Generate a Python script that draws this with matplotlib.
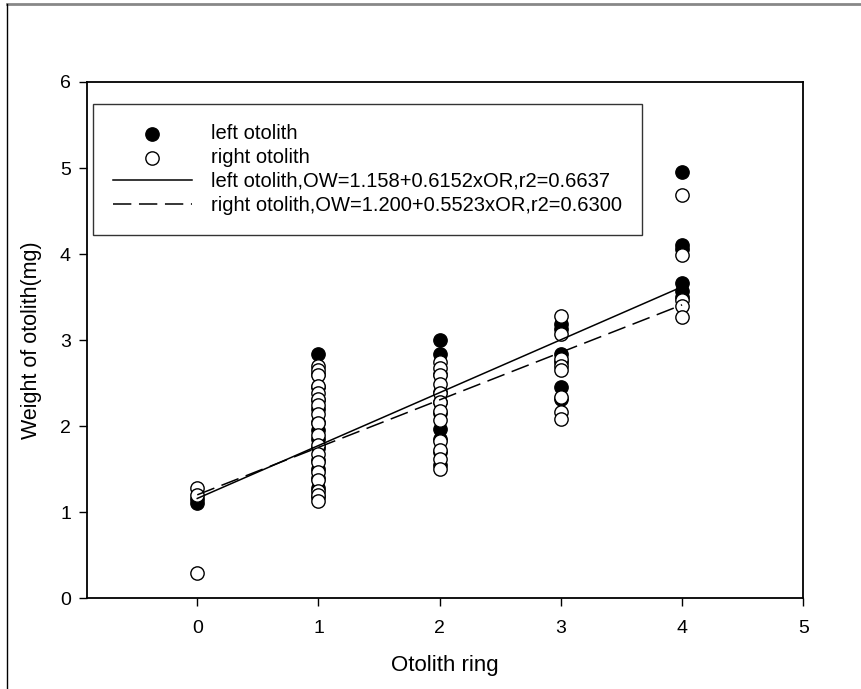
import matplotlib
matplotlib.use('Agg')
import matplotlib.pyplot as plt
from matplotlib.lines import Line2D
import numpy as np

plt.rcParams['font.family'] = ['Liberation Sans', 'DejaVu Sans']

# otolith ring (age) and weight (mg)
left_ring = [0, 0,
             1, 1, 1, 1, 1, 1, 1, 1, 1, 1, 1, 1, 1, 1,
             2, 2, 2, 2, 2, 2, 2, 2, 2, 2,
             3, 3, 3, 3, 3, 3,
             4, 4, 4, 4, 4, 4]
left_w = [1.11, 1.15,
          2.84, 2.60, 2.45, 2.30, 2.20, 2.05, 1.95, 1.85, 1.75, 1.60, 1.50, 1.40, 1.28, 1.18,
          3.00, 2.84, 2.60, 2.40, 2.28, 2.15, 1.97, 1.85, 1.70, 1.55,
          3.19, 3.13, 2.84, 2.45, 2.32, 2.75,
          4.95, 4.10, 4.06, 3.66, 3.57, 3.50]

right_ring = [0, 0, 0,
              1, 1, 1, 1, 1, 1, 1, 1, 1, 1, 1, 1, 1, 1, 1, 1, 1, 1,
              2, 2, 2, 2, 2, 2, 2, 2, 2, 2, 2, 2,
              3, 3, 3, 3, 3, 3, 3, 3,
              4, 4, 4, 4, 4]
right_w = [1.28, 1.20, 0.29,
           2.70, 2.65, 2.59, 2.47, 2.38, 2.32, 2.24, 2.14, 2.03, 1.89, 1.78, 1.68, 1.58, 1.47, 1.37, 1.25, 1.20, 1.13,
           2.74, 2.67, 2.59, 2.49, 2.38, 2.28, 2.18, 2.07, 1.83, 1.72, 1.62, 1.50,
           3.28, 3.07, 2.78, 2.70, 2.65, 2.34, 2.16, 2.08,
           4.69, 3.99, 3.46, 3.40, 3.27]

# regression: intercept, slope
left_fit = (1.158, 0.6152)
right_fit = (1.200, 0.5523)

fig = plt.figure(figsize=(8.61, 6.89), dpi=100)
ax = fig.add_axes([0.101, 0.132, 0.832, 0.749])

ax.scatter(left_ring, left_w, s=92, c='black', edgecolors='black', linewidths=1,
           label='left otolith', zorder=3)
ax.scatter(right_ring, right_w, s=92, c='white', edgecolors='black', linewidths=1,
           label='right otolith', zorder=4)

xs = np.array([0, 4])
ax.plot(xs, left_fit[0] + left_fit[1] * xs, color='black', lw=1.1,
        label='left otolith,OW=1.158+0.6152xOR,r2=0.6637', zorder=5)
ax.plot(xs, right_fit[0] + right_fit[1] * xs, color='black', lw=1.1, dashes=(12, 5),
        label='right otolith,OW=1.200+0.5523xOR,r2=0.6300', zorder=5)

ax.set_xlim(-0.91, 5)
ax.set_ylim(0, 6)
ax.set_xticks(range(6))
ax.set_yticks(range(7))
ax.tick_params(direction='out', length=5.5, width=1, labelsize=14)
ax.tick_params(axis='x', pad=10)
ax.tick_params(axis='y', pad=6)
for sp in ax.spines.values():
    sp.set_linewidth(1.3)

ax.set_xlabel('Otolith ring', fontsize=16, labelpad=13)
ax.set_ylabel('Weight of otolith(mg)', fontsize=15.5, labelpad=13)

leg = ax.legend(loc='upper left', fontsize=14.5, frameon=True, fancybox=False,
                edgecolor='black', borderpad=0.98, handlelength=3.9, handletextpad=0.95,
                labelspacing=0.25, borderaxespad=0, bbox_to_anchor=(0.009, 0.957))
leg.get_frame().set_linewidth(1)

# page border like the original export
fig.add_artist(Line2D([7 / 861, 1], [1 - 4 / 689, 1 - 4 / 689], color='#888888', lw=2))
fig.add_artist(Line2D([7 / 861, 7 / 861], [0, 1 - 4 / 689], color='black', lw=1))

fig.savefig('out.png', dpi=100)
